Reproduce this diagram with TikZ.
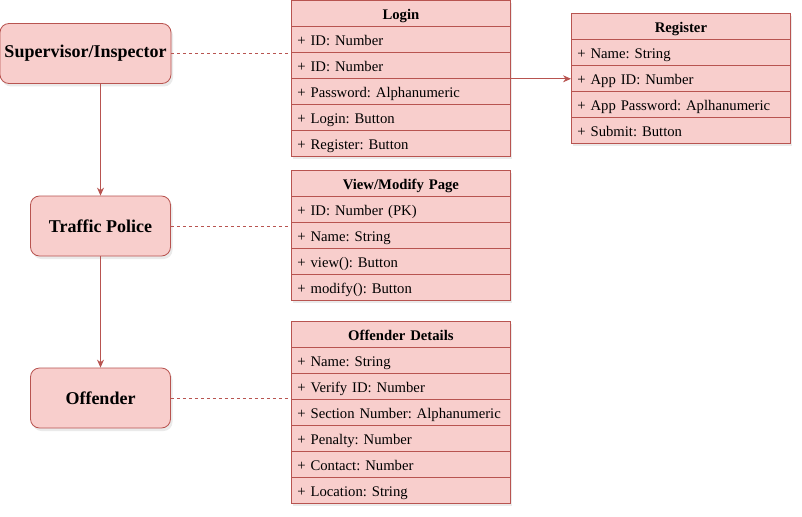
\documentclass[tikz,border=0pt]{standalone}
\usepackage{fontspec}
\setmainfont{Liberation Serif}
\usetikzlibrary{arrows.meta,shadows}
\definecolor{rfill}{HTML}{F8CECC}
\definecolor{rline}{HTML}{B85450}
\begin{document}
\frenchspacing
\begin{tikzpicture}[x=1pt,y=-1pt,
  shad/.style={drop shadow={shadow xshift=2pt,shadow yshift=-3pt,fill=black!16}},
  actor/.style={draw=rline,fill=rfill,rounded corners=9pt,line width=0.8pt,inner sep=0pt,
    font=\fontsize{18}{20}\selectfont\bfseries,shad},
  row/.style={draw=rline,fill=rfill,line width=0.8pt,anchor=north west,
    text width=207pt,inner xsep=6pt,inner ysep=0pt,align=left,
    text height=19.5pt,text depth=6.5pt,
    font=\fontsize{14.7}{17}\selectfont,shad},
  hdr/.style={row,align=center,font=\fontsize{14.7}{17}\selectfont\bfseries},
  conn/.style={draw=rline,line width=0.8pt},
  arr/.style={conn,-{Stealth[length=8pt,width=7pt]}},
  dashline/.style={conn,dash pattern=on 3pt off 3pt}]
\useasboundingbox (0,0) rectangle (802,516);
\fill[white] (0,0) rectangle (802,516);
% actors
\node[actor,minimum width=171pt,minimum height=60pt] (sup) at (85.5,53.5) {Supervisor/Inspector};
\node[actor,minimum width=140pt,minimum height=60pt] (tp) at (100.5,226) {Traffic Police};
\node[actor,minimum width=140pt,minimum height=60pt] (off) at (100.5,398) {Offender};
% Login
\node[hdr] (login) at (291,0) {Login};
\foreach \t [count=\i] in {+ ID: Number,+ ID: Number,+ Password: Alphanumeric,+ Login: Button,+ Register: Button}
  \node[row] (login\i) at (291,{26*\i}) {\mbox{\t}};
% Register
\node[hdr] (reg) at (571,13) {Register};
\foreach \t [count=\i] in {+ Name: String,+ App ID: Number,+ App Password: Aplhanumeric,+ Submit: Button}
  \node[row] (reg\i) at (571,{13+26*\i}) {\mbox{\t}};
% View/Modify
\node[hdr] (view) at (291,170) {View/Modify Page};
\foreach \t [count=\i] in {+ ID: Number (PK),+ Name: String,+ view(): Button,+ modify(): Button}
  \node[row] (view\i) at (291,{170+26*\i}) {\mbox{\t}};
% Offender details
\node[hdr] (det) at (291,321) {Offender Details};
\foreach \t [count=\i] in {+ Name: String,+ Verify ID: Number,+ Section Number: Alphanumeric,+ Penalty: Number,+ Contact: Number,+ Location: String}
  \node[row] (det\i) at (291,{321+26*\i}) {\mbox{\t}};
% connectors
\draw[arr] (sup.south -| tp.north) -- (tp.north);
\draw[arr] (tp.south) -- (off.north);
\draw[dashline] (sup.east) -- (sup.east -| login1.west);
\draw[dashline] (tp.east) -- (tp.east -| view1.west);
\draw[dashline] (off.east) -- (off.east -| det1.west);
\draw[arr] (login2.south east) -- (login2.south east -| reg2.west);
\end{tikzpicture}
\end{document}
